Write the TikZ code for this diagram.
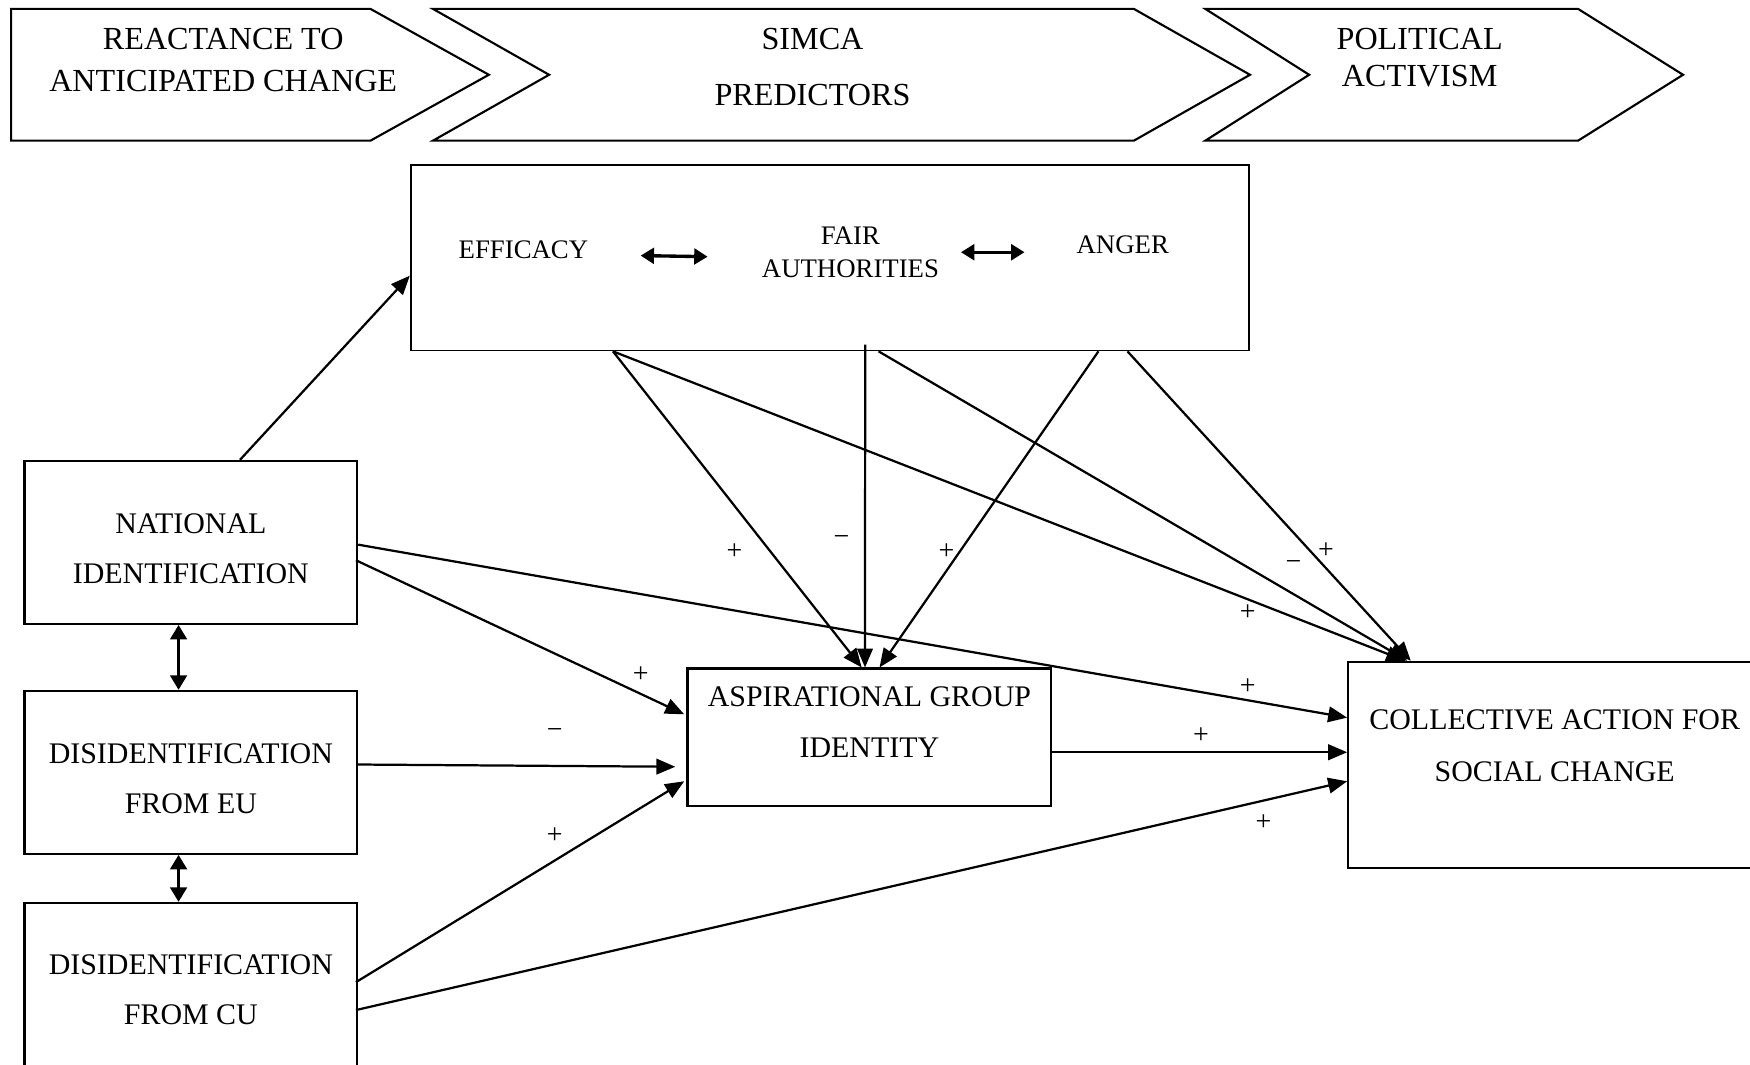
\documentclass[tikz,border=0pt]{standalone}
\usepackage{fontspec}
\setmainfont{Liberation Serif}
\usetikzlibrary{arrows.meta,calc}
\begin{document}
\begin{tikzpicture}[x=1pt,y=-1pt,
  chev/.style={draw,line width=1.9pt,line join=miter},
  box/.style={draw,line width=1.9pt,rectangle,inner sep=0pt},
  chevtxt/.style={align=center,inner sep=0pt},
  boxtxt/.style={align=center,inner sep=0pt,font=\fontsize{26.8}{45}\selectfont},
  toptxt/.style={align=center,inner sep=0pt,font=\fontsize{24}{29}\selectfont},
  conn/.style={line width=2pt,-{Triangle[length=17pt,width=14pt]}},
  dblv/.style={line width=2.4pt,{Triangle[length=13pt,width=15pt]}-{Triangle[length=13pt,width=15pt]}},
  dblh/.style={line width=3pt,{Triangle[length=12pt,width=14pt]}-{Triangle[length=12pt,width=14pt]}},
  lbl/.style={inner sep=0pt,font=\fontsize{25}{26}\selectfont}]
\clip (0,0) rectangle (1568,954);
\fill[white] (0,0) rectangle (1568,954);

% chevrons
\draw[chev] (10,8) -- (332,8) -- (438,67) -- (332,126) -- (10,126) -- cycle;
\draw[chev] (388,8) -- (1016,8) -- (1120,67) -- (1016,126) -- (388,126) -- (492,67) -- cycle;
\draw[chev] (1080,8) -- (1414,8) -- (1508,67) -- (1414,126) -- (1080,126) -- (1173,67) -- cycle;
\node[chevtxt,font=\fontsize{28.8}{38}\selectfont] (c1) at (200,54) {REACTANCE TO\\ANTICIPATED CHANGE};
\node[chevtxt,font=\fontsize{28.8}{50}\selectfont] (c2) at (728,60) {SIMCA\\PREDICTORS};
\node[chevtxt,font=\fontsize{28.8}{33}\selectfont] (c3) at (1272,51.5) {POLITICAL\\ACTIVISM};

% boxes
\node[box,line width=1.6pt,minimum width=751pt,minimum height=166pt] (top) at (743.5,231) {};
\node[box,minimum width=298pt,minimum height=146pt] (nat) at (171,486) {};
\node[box,minimum width=298pt,minimum height=146pt] (eu) at (171,692) {};
\node[box,minimum width=298pt,minimum height=191pt] (cu) at (171,904.5) {};
\node[box,minimum width=326pt,minimum height=123pt] (asp) at (779,660.5) {};
\node[box,minimum width=392pt,minimum height=185pt] (coll) at (1404,685.5) {};

% texts
\node[toptxt] (eff) at (469,224) {EFFICACY};
\node[toptxt] (fair) at (762,226) {FAIR\\AUTHORITIES};
\node[toptxt] (ang) at (1006,219) {ANGER};
\node[boxtxt] (natt) at (171,492) {NATIONAL\\IDENTIFICATION};
\node[boxtxt] (eut) at (171,698) {DISIDENTIFICATION\\FROM EU};
\node[boxtxt] (cut) at (171,887) {DISIDENTIFICATION\\FROM CU};
\node[boxtxt] (aspt) at (779,647) {ASPIRATIONAL GROUP\\IDENTITY};
\node[boxtxt,font=\fontsize{26.8}{47}\selectfont] (collt) at (1393,668) {COLLECTIVE ACTION FOR\\SOCIAL CHANGE};

% double arrows in top box
\coordinate (d1a) at (574,229);
\coordinate (d1b) at (634,230);
\coordinate (d2a) at (861,226);
\coordinate (d2b) at (918,226);
\draw[dblh] (d1a) -- (d1b);
\draw[dblh] (d2a) -- (d2b);

% vertical double arrows
\draw[dblv] ($(nat.south)+(-11,0)$) -- ($(eu.north)+(-11,0)$);
\draw[dblv] ($(eu.south)+(-11,0)$) -- ($(cu.north)+(-11,0)$);

% connectors
\draw[conn] ($(nat.north)+(44,0)$) -- ($(top.west)+(0,16)$);
\draw[conn] ($(top.south west)+(182,0)$) -- ($(asp.north west)+(157,0)$);
\draw[conn] ($(top.south west)+(408,-6)$) -- ($(asp.north west)+(160,0)$);
\draw[conn] ($(top.south west)+(617,0)$) -- ($(asp.north west)+(173,0)$);
\draw[conn] ($(top.south west)+(182,0)$) -- ($(coll.north west)+(52,0)$);
\draw[conn] ($(top.south west)+(420,0)$) -- ($(coll.north west)+(54,0)$);
\draw[conn] ($(top.south west)+(643,0)$) -- ($(coll.north west)+(57,0)$);
\draw[conn] ($(nat.east)+(0,2)$) -- ($(coll.west)+(0,-42.5)$);
\draw[conn] ($(nat.east)+(-2,16)$) -- ($(asp.west)+(-2,-20.5)$);
\draw[conn] ($(eu.east)+(0,-7)$) -- ($(asp.west)+(-10,26.5)$);
\draw[conn] ($(cu.east)+(-2,-24.5)$) -- ($(asp.west)+(-2,39.5)$);
\draw[conn] ($(cu.east)+(-2,0.5)$) -- ($(coll.west)+(0,14.5)$);
\draw[conn] ($(asp.east)+(0,13.5)$) -- ($(coll.west)+(0,-11.5)$);

% signs
\node[lbl] (l1) at (658,494) {+};
\node[lbl] (l2) at (754,484) {−};
\node[lbl] (l3) at (848,494) {+};
\node[lbl] (l4) at (1188,493) {+};
\node[lbl] (l5) at (1159,507) {−};
\node[lbl] (l6) at (1118,549) {+};
\node[lbl] (l7) at (1118,615) {+};
\node[lbl] (l8) at (574,604) {+};
\node[lbl] (l9) at (497,657) {−};
\node[lbl] (l10) at (497,749) {+};
\node[lbl] (l11) at (1132,737) {+};
\node[lbl] (l12) at (1076,659) {+};
\end{tikzpicture}
\end{document}
